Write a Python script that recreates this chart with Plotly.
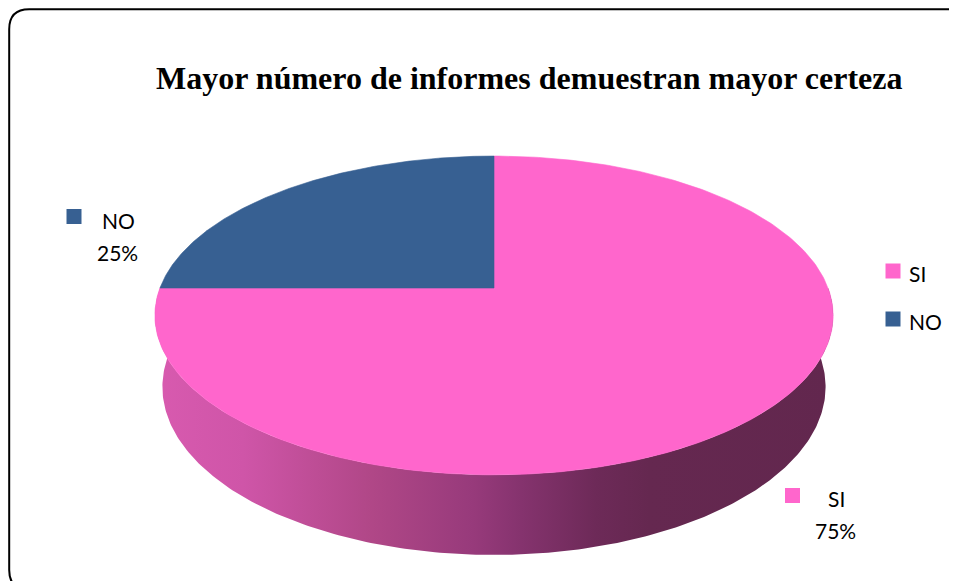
import numpy as np
import plotly.graph_objects as go

# ---------------- data ----------------
categories = ["SI", "NO"]
values = [75, 25]
title_text = "Mayor número de informes demuestran mayor certeza"

# ---------------- style ----------------
PAGE_MARGIN = 8          # default body margin of the html page
W, H = 957 - PAGE_MARGIN, 581 - PAGE_MARGIN
top_colors = {"SI": "#FF66CC", "NO": "#376092"}
side_scales = {
    "SI": [[0.0, "#D85AAF"], [0.13, "#CF55A8"], [0.32, "#B04787"], [0.47, "#973A7B"],
           [0.54, "#85336E"], [0.65, "#6D2A58"], [0.73, "#652850"], [1.0, "#62274E"]],
    "NO": [[0.0, "#2E5280"], [1.0, "#1B3350"]],
}
FONT_LBL = dict(family="Lato, 'Open Sans', sans-serif", size=21, color="#000000")

# perspective camera for the 3-D pie (pixel space)
CX, CY = 494.0, 288.0
CAM_L, CAM_H, CAM_D, FOCAL = 5.14, 2.38, 4.55, 1717.0
THICK = 0.244


def proj(theta, h=0.0):
    c, s = np.cos(theta), np.sin(theta)
    den = CAM_L * CAM_L + h * CAM_H + CAM_D * s
    x = CX + FOCAL * CAM_L * c / den
    y = CY + FOCAL * (h * CAM_D - CAM_H * s) / den
    return x, y


fig = go.Figure()

# slice angles: start at 12 o'clock, clockwise
total = float(sum(values))
starts, ends = [], []
acc = 0.0
for v in values:
    a0 = np.pi / 2 - 2 * np.pi * acc / total
    acc += v
    a1 = np.pi / 2 - 2 * np.pi * acc / total
    starts.append(a0)
    ends.append(a1)

# side walls (visible front half: theta in [-pi, 0])
for cat, a0, a1 in zip(categories, starts, ends):
    lo, hi = max(a1, -np.pi), min(a0, 0.0)
    if hi - lo <= 1e-6:
        continue
    th = np.linspace(lo, hi, 240)
    tx, ty = proj(th, 0.0)
    bx, by = proj(th[::-1], THICK)
    xs = np.concatenate([tx, bx, tx[:1]])
    ys = np.concatenate([ty, by, ty[:1]])
    fig.add_trace(go.Scatter(
        x=xs, y=ys, mode="lines", line=dict(width=0), fill="toself",
        fillgradient=dict(type="horizontal", colorscale=side_scales[cat],
                          start=155, stop=833),
        hoverinfo="skip", showlegend=False))

# top faces
for cat, a0, a1 in zip(categories, starts, ends):
    th = np.linspace(a0, a1, 300)
    ax, ay = proj(th, 0.0)
    xs = np.concatenate([[CX], ax, [CX]])
    ys = np.concatenate([[CY], ay, [CY]])
    fig.add_trace(go.Scatter(
        x=xs, y=ys, mode="lines", line=dict(width=0.6, color=top_colors[cat]),
        fill="toself", fillcolor=top_colors[cat], name=cat,
        hoverinfo="name", showlegend=False))

# data labels (marker + category + percent)
label_pos = {"SI": dict(sq=(792.5, 495.5), cat=(836, 498), pct=(835.5, 530)),
             "NO": dict(sq=(74, 216.5), cat=(118, 220), pct=(117.5, 252))}
for cat, v in zip(categories, values):
    p = label_pos[cat]
    fig.add_trace(go.Scatter(x=[p["sq"][0]], y=[p["sq"][1]], mode="markers",
                             marker=dict(symbol="square", size=15, color=top_colors[cat]),
                             hoverinfo="skip", showlegend=False))
    fig.add_annotation(x=p["cat"][0], y=p["cat"][1], text=cat, showarrow=False,
                       xanchor="center", yanchor="middle", font=FONT_LBL)
    fig.add_annotation(x=p["pct"][0], y=p["pct"][1], text=f"{round(100 * v / total)}%",
                       showarrow=False, xanchor="center", yanchor="middle", font=FONT_LBL)

# legend (manual)
leg_y = {"SI": 271, "NO": 319}
for cat in categories:
    fig.add_trace(go.Scatter(x=[893], y=[leg_y[cat]], mode="markers",
                             marker=dict(symbol="square", size=15, color=top_colors[cat]),
                             hoverinfo="skip", showlegend=False))
    fig.add_annotation(x=907, y=leg_y[cat] + 2, text=cat, showarrow=False,
                       xanchor="left", yanchor="middle", font=FONT_LBL)

# title
fig.add_annotation(x=528.5, y=78, text=f"<b>{title_text}</b>", showarrow=False,
                   xanchor="center", yanchor="middle",
                   font=dict(family="'Liberation Serif', 'Times New Roman', serif",
                             size=32, color="#000000"))

# rounded border
r = 20
x0, y0, x1, y1 = 9.2, 9.2, 968, 590
path = (f"M {x0 + r},{y0} L {x1 - r},{y0} Q {x1},{y0} {x1},{y0 + r} "
        f"L {x1},{y1 - r} Q {x1},{y1} {x1 - r},{y1} L {x0 + r},{y1} "
        f"Q {x0},{y1} {x0},{y1 - r} L {x0},{y0 + r} Q {x0},{y0} {x0 + r},{y0} Z")
fig.add_shape(type="path", path=path, xref="x", yref="y",
              line=dict(color="#000000", width=2), layer="above")

fig.update_layout(
    width=W, height=H, margin=dict(l=0, r=0, t=0, b=0),
    paper_bgcolor="white", plot_bgcolor="white", showlegend=False,
    xaxis=dict(range=[PAGE_MARGIN, 957], visible=False, fixedrange=True),
    yaxis=dict(range=[581, PAGE_MARGIN], visible=False, fixedrange=True),
)

fig.write_html("out.html")
